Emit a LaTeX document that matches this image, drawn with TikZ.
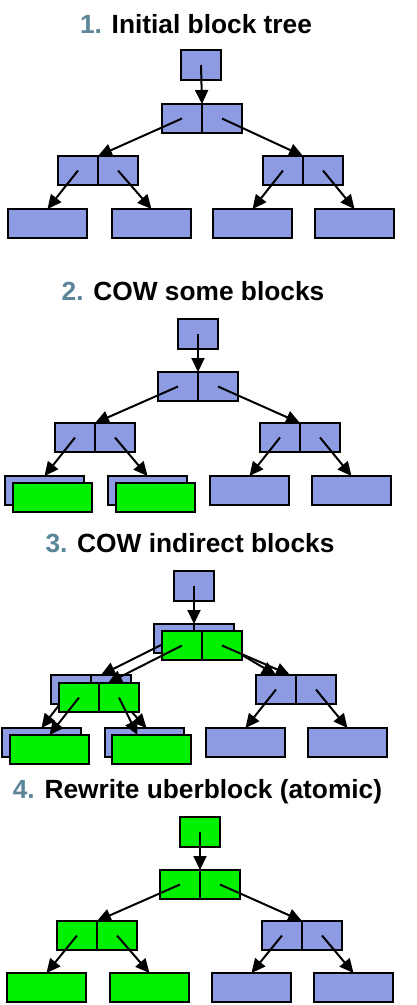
\documentclass[tikz,border=0pt]{standalone}
\usepackage{fontspec}
\setmainfont{Liberation Sans}
\usetikzlibrary{arrows.meta,calc}
\definecolor{bblue}{HTML}{8C9BE2}
\definecolor{ggreen}{HTML}{00F000}
\definecolor{numc}{HTML}{5B8599}
\newcommand\twobox[4]{%
  \node[blk,half,#4] (#1L) at (#2,#3) {};
  \node[blk,half,#4] (#1R) at (#1L.north east) {};}
\begin{document}
\begin{tikzpicture}[x=1pt,y=-1pt,
  blk/.style={draw=black, line width=2.3pt, inner sep=0pt, outer sep=0pt, anchor=north west},
  half/.style={minimum width=40pt, minimum height=29pt},
  leaf/.style={minimum width=79pt, minimum height=29pt},
  rootb/.style={minimum width=40pt, minimum height=30pt},
  blue/.style={fill=bblue},
  green/.style={fill=ggreen},
  arr/.style={-{Triangle[length=14pt,width=13pt]}, line width=2pt},
  ttl/.style={font=\fontsize{26.3}{30}\selectfont\bfseries, anchor=base, inner sep=0pt}]
\useasboundingbox[fill=white] (0,0) rectangle (417,1005);

% ---------- Panel 1 ----------
\node[ttl] (t1) at (196,33) {\textcolor{numc}{1.} Initial block tree};
\node[blk,rootb,blue] (a0) at (181,50) {};
\twobox{a1}{162}{104}{blue}
\twobox{a2}{58}{156}{blue}
\twobox{a3}{263}{156}{blue}
\node[blk,leaf,blue] (a4) at (8,209) {};
\node[blk,leaf,blue] (a5) at (112,209) {};
\node[blk,leaf,blue] (a6) at (213,209) {};
\node[blk,leaf,blue] (a7) at (315,209) {};
\draw[arr] (a0.center) -- (a1L.north east);
\draw[arr] (a1L.center) -- (a2L.north east);
\draw[arr] (a1R.center) -- (a3L.north east);
\draw[arr] (a2L.center) -- (a4.north);
\draw[arr] (a2R.center) -- (a5.north);
\draw[arr] (a3L.center) -- (a6.north);
\draw[arr] (a3R.center) -- (a7.north);

% ---------- Panel 2 ----------
\node[ttl] (t2) at (193,300) {\textcolor{numc}{2.} COW some blocks};
\node[blk,rootb,blue] (b0) at (178,319) {};
\twobox{b1}{158}{372}{blue}
\twobox{b2}{55}{423}{blue}
\twobox{b3}{260}{423}{blue}
\node[blk,leaf,blue] (b4) at (5,476) {};
\node[blk,leaf,blue] (b5) at (108,476) {};
\node[blk,leaf,blue] (b6) at (210,476) {};
\node[blk,leaf,blue] (b7) at (312,476) {};
\node[blk,leaf,green] (b4g) at (13,483) {};
\node[blk,leaf,green] (b5g) at (116,483) {};
\draw[arr] (b0.center) -- (b1L.north east);
\draw[arr] (b1L.center) -- (b2L.north east);
\draw[arr] (b1R.center) -- (b3L.north east);
\draw[arr] (b2L.center) -- (b4.north);
\draw[arr] (b2R.center) -- (b5.north);
\draw[arr] (b3L.center) -- (b6.north);
\draw[arr] (b3R.center) -- (b7.north);

% ---------- Panel 3 ----------
\node[ttl] (t3) at (190,552) {\textcolor{numc}{3.} COW indirect blocks};
\node[blk,rootb,blue] (c0) at (174,571) {};
\twobox{c1}{154}{624}{blue}
\twobox{c2}{51}{675}{blue}
\twobox{c3}{256}{675}{blue}
\node[blk,leaf,blue] (c4) at (2,728) {};
\node[blk,leaf,blue] (c5) at (105,728) {};
\node[blk,leaf,blue] (c6) at (206,728) {};
\node[blk,leaf,blue] (c7) at (308,728) {};
\draw[arr] (c0.center) -- (c1L.north east);
\draw[arr] (c1L.center) -- ($(c2L.north east)+(10,0)$);
\draw[arr] (c1R.center) -- ($(c3L.north east)+(-20,0)$);
\draw[arr] (c2L.center) -- (c4.north);
\draw[arr] (c2R.center) -- ($(c5.north)+(2,0)$);
\draw[arr] (c3L.center) -- (c6.north);
\draw[arr] (c3R.center) -- (c7.north);
% green copies
\twobox{g1}{162}{631}{green}
\twobox{g2}{59}{683}{green}
\node[blk,leaf,green] (g4) at (10,735) {};
\node[blk,leaf,green] (g5) at (112,735) {};
\draw[arr] (g1L.center) -- ($(g2L.north east)+(9,0)$);
\draw[arr] (g1R.center) -- ($(c3L.north east)+(-6,0)$);
\draw[arr] (g2L.center) -- (g4.north);
\draw[arr] (g2R.center) -- ($(g5.north)+(-14,0)$);

% ---------- Panel 4 ----------
\node[ttl] (t4) at (197.5,798) {\textcolor{numc}{4.} Rewrite uberblock (atomic)};
\node[blk,rootb,green] (d0) at (180,817) {};
\twobox{d1}{160}{870}{green}
\twobox{d2}{57}{921}{green}
\twobox{d3}{262}{921}{blue}
\node[blk,leaf,green] (d4) at (7,973) {};
\node[blk,leaf,green] (d5) at (110,973) {};
\node[blk,leaf,blue] (d6) at (212,973) {};
\node[blk,leaf,blue] (d7) at (314,973) {};
\draw[arr] (d0.center) -- (d1L.north east);
\draw[arr] (d1L.center) -- (d2L.north east);
\draw[arr] (d1R.center) -- (d3L.north east);
\draw[arr] (d2L.center) -- (d4.north);
\draw[arr] (d2R.center) -- (d5.north);
\draw[arr] (d3L.center) -- (d6.north);
\draw[arr] (d3R.center) -- (d7.north);
\end{tikzpicture}
\end{document}
